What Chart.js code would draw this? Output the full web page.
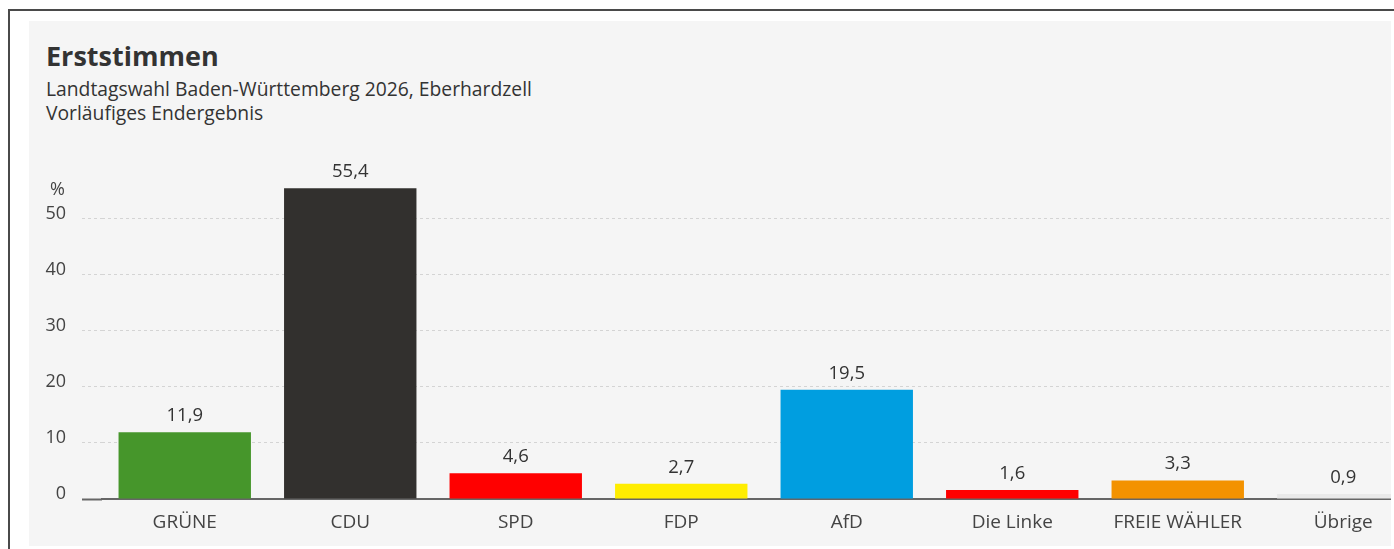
<!DOCTYPE html>
<html>
<head>
<meta charset="utf-8">
<script src="https://cdn.jsdelivr.net/npm/chart.js@4/dist/chart.umd.min.js"></script>
<style>
  html, body { margin: 0; padding: 0; background: #fff; overflow: hidden; }
  body { width: 1394px; height: 549px; position: relative; font-family: "Open Sans", sans-serif; }
  #frame { position: absolute; left: 8px; top: 9px; width: 1400px; height: 560px;
           border-top: 2px solid #4a4a4a; border-left: 2px solid #4a4a4a; }
  #panel { position: absolute; left: 29px; top: 21px; width: 1362px; height: 525px;
           background: #f5f5f5; overflow: hidden; }
  .title { position: absolute; left: 17px; top: 18px; font-size: 27px; font-weight: 700;
           color: #333; line-height: 34px; white-space: nowrap; }
  .sub { position: absolute; left: 17px; font-size: 19.3px; color: #333; line-height: 24px; white-space: nowrap; }
  #chartBox { position: absolute; left: 0; top: 129px; width: 1397px; height: 395px; }
</style>
</head>
<body>
<div id="frame"></div>
<div id="panel">
  <div class="title">Erststimmen</div>
  <div class="sub" style="top:56px">Landtagswahl Baden-Württemberg 2026, Eberhardzell</div>
  <div class="sub" style="top:80px">Vorläufiges Endergebnis</div>
  <div id="chartBox"><canvas id="myChart"></canvas></div>
</div>
<script>
// Erststimmen in Prozent
const parties = ['GRÜNE', 'CDU', 'SPD', 'FDP', 'AfD', 'Die Linke', 'FREIE WÄHLER', 'Übrige'];
const percents = [11.9, 55.4, 4.6, 2.7, 19.5, 1.6, 3.3, 0.9];
const partyColors = ['#46962b', '#32302e', '#ff0000', '#ffed00', '#009ee0', '#ff0000', '#f39200', '#e9e9e9'];
const yTicks = [0, 10, 20, 30, 40, 50];

const FONT = '"Open Sans", sans-serif';

function fmt(v) {
    return v.toFixed(1).replace('.', ',');
}

// value labels above bars + the "%" unit
const barLabels = {
    id: 'barLabels',
    afterDatasetsDraw(chart) {
        const ctx = chart.ctx;
        const meta = chart.getDatasetMeta(0);
        ctx.save();
        ctx.font = '18.5px ' + FONT;
        ctx.fillStyle = '#333';
        ctx.textAlign = 'center';
        ctx.textBaseline = 'alphabetic';
        meta.data.forEach((bar, i) => {
            ctx.fillText(fmt(percents[i]), bar.x, bar.y - 11);
        });
        const yScale = chart.scales.y;
        ctx.font = '18px ' + FONT;
        ctx.textAlign = 'right';
        ctx.textBaseline = 'middle';
        ctx.fillStyle = '#444';
        ctx.fillText('%', 36, yScale.getPixelForValue(50) - 29);
        ctx.restore();
    }
};

document.addEventListener('DOMContentLoaded', function() {
    const ctx = document.getElementById('myChart').getContext('2d');
    const myChart = new Chart(ctx, {
        type: 'bar',
        data: {
            labels: parties,
            datasets: [{
                data: percents,
                backgroundColor: partyColors,
                barPercentage: 0.8,
                categoryPercentage: 1.0,
            }]
        },
        options: {
            responsive: true,
            maintainAspectRatio: false,
            animation: false,
            layout: { padding: { top: 35, right: 0, left: 0, bottom: 0 } },
            plugins: {
                legend: { display: false },
                tooltip: { enabled: false },
            },
            scales: {
                x: {
                    grid: { display: false, drawTicks: false },
                    border: { display: true, color: '#666', width: 2 },
                    ticks: { color: '#444', font: { size: 19, family: FONT }, padding: 12 },
                    afterFit(scale) { scale.height = 46; },
                },
                y: {
                    min: 0,
                    max: 56,
                    afterBuildTicks(scale) {
                        scale.ticks = yTicks.map(v => ({ value: v }));
                    },
                    border: { display: false, dash: [3, 3] },
                    grid: {
                        color: ctx => ctx.tick && ctx.tick.value === 0 ? 'rgba(0,0,0,0)' : '#d4d4d4',
                        tickColor: ctx => ctx.tick && ctx.tick.value === 0 ? '#666' : '#d4d4d4',
                        tickBorderDash: ctx => ctx.tick && ctx.tick.value === 0 ? [] : [3, 3],
                        tickWidth: ctx => ctx.tick && ctx.tick.value === 0 ? 2 : 1,
                        tickLength: 20,
                    },
                    ticks: { color: '#444', font: { size: 18, family: FONT }, padding: 16, labelOffset: -5 },
                    afterFit(scale) { scale.width = 73; },
                }
            }
        },
        plugins: [barLabels]
    });
});
</script>
</body>
</html>
